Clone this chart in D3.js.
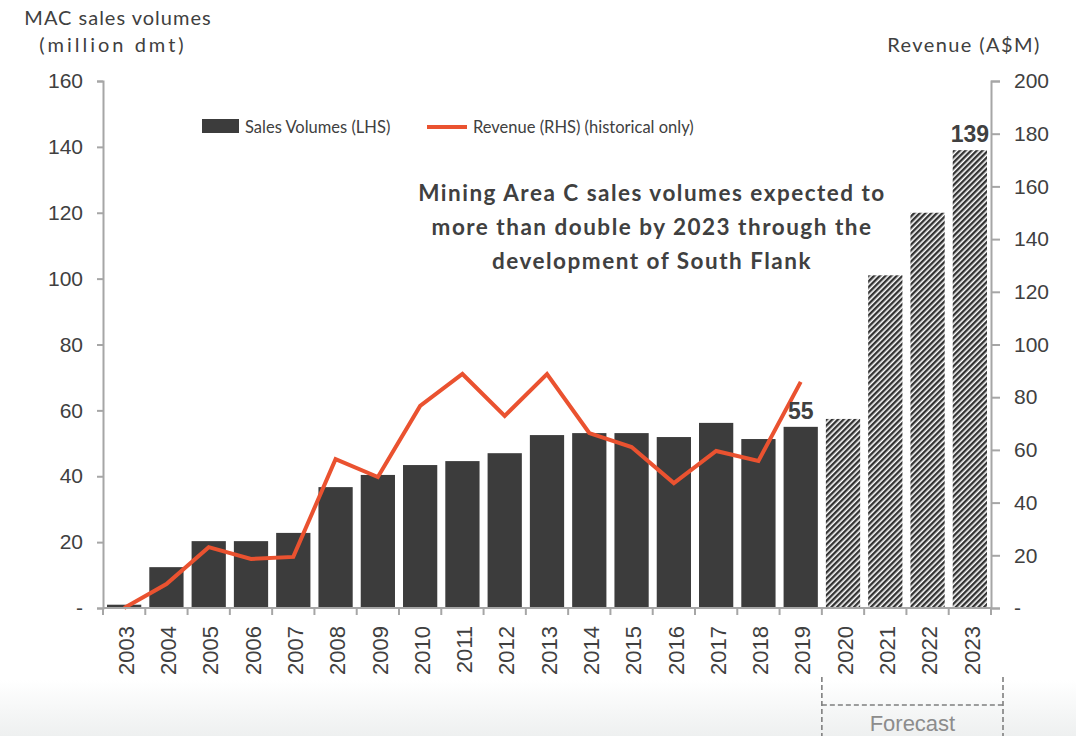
<!DOCTYPE html>
<html><head><meta charset="utf-8">
<script src="https://cdn.jsdelivr.net/npm/d3@7"></script>
<style>
html,body{margin:0;padding:0;background:#fff;}
svg{display:block;}
</style></head>
<body>
<svg id="chart" width="1076" height="736"></svg>
<script>
const years = ["2003","2004","2005","2006","2007","2008","2009","2010","2011","2012","2013","2014","2015","2016","2017","2018","2019","2020","2021","2022","2023"];
const salesVolumes = [1,12.4,20.3,20.3,22.8,36.7,40.4,43.4,44.6,47,52.5,53.1,53.1,51.9,56.2,51.3,55,57.4,101,120,139];
const forecastYears = ["2020","2021","2022","2023"];
const revenueYears = ["2003","2004","2005","2006","2007","2008","2009","2010","2011","2012","2013","2014","2015","2016","2017","2018","2019"];
const revenue = [0,9.1,23.1,18.6,19.4,56.5,49.7,76.7,88.8,72.9,88.8,66.4,61.1,47.4,59.6,55.8,85.8];
const leftTicks = [0,20,40,60,80,100,120,140,160];
const rightTicks = [0,20,40,60,80,100,120,140,160,180,200];
const annotationLines = ["Mining Area C sales volumes expected to","more than double by 2023 through the","development of South Flank"];
const valueLabels = [{year:"2019", value:55, text:"55"},{year:"2023", value:139, text:"139"}];

(function(){
const svg = d3.select("#chart");
const W = 1076, H = 736;
const pLeft = 103, pRight = 991, pTop = 81, pBottom = 608;
const textColor = "#404040";
const sansA = "'Liberation Sans', Arial, sans-serif";
const sansC = "Lato, 'Open Sans', sans-serif";

const defs = svg.append("defs");
const grad = defs.append("linearGradient").attr("id","bg").attr("x1",0).attr("y1",0).attr("x2",0).attr("y2",1);
grad.append("stop").attr("offset","0%").attr("stop-color","#ffffff");
grad.append("stop").attr("offset","100%").attr("stop-color","#eef0f0");
const pat = defs.append("pattern").attr("id","hatch").attr("patternUnits","userSpaceOnUse")
  .attr("width",4).attr("height",4).attr("patternTransform","rotate(45)");
pat.append("rect").attr("width",4).attr("height",4).attr("fill","#ffffff");
pat.append("rect").attr("x",0).attr("width",2.4).attr("height",4).attr("fill","#333333");

svg.append("rect").attr("x",0).attr("y",680).attr("width",W).attr("height",H-680).attr("fill","url(#bg)");

const x = d3.scaleBand().domain(years).range([pLeft,pRight]).paddingInner(0.19).paddingOuter(0.095);
const yL = d3.scaleLinear().domain([0,160]).range([pBottom,pTop]);
const yR = d3.scaleLinear().domain([0,200]).range([pBottom,pTop]);

// bars
svg.append("g").selectAll("rect").data(years).join("rect")
  .attr("x", d => x(d))
  .attr("width", x.bandwidth())
  .attr("y", (d,i) => yL(salesVolumes[i]))
  .attr("height", (d,i) => pBottom - yL(salesVolumes[i]))
  .attr("fill", d => forecastYears.includes(d) ? "url(#hatch)" : "#3c3c3c");

// revenue line
const line = d3.line().x(d => x(d.year) + x.bandwidth()/2).y(d => yR(d.v));
svg.append("path").datum(revenueYears.map((y,i)=>({year:y, v:revenue[i]})))
  .attr("d", line).attr("fill","none").attr("stroke","#ea5230").attr("stroke-width",4)
  .attr("stroke-linejoin","miter");

// axes
const axisColor = "#a6a6a6";
const gL = svg.append("g").attr("transform",`translate(${pLeft},0)`)
  .call(d3.axisLeft(yL).tickValues(leftTicks).tickSize(6).tickPadding(14).tickFormat(d => d===0 ? "-" : d));
const gR = svg.append("g").attr("transform",`translate(${pRight},0)`)
  .call(d3.axisRight(yR).tickValues(rightTicks).tickSize(9).tickPadding(14).tickFormat(d => d===0 ? "-" : d));
const gB = svg.append("g").attr("transform",`translate(0,${pBottom})`)
  .call(d3.axisBottom(x).tickSize(0).tickPadding(0));
[gL,gR,gB].forEach(g => {
  g.select(".domain").attr("stroke",axisColor).attr("stroke-width",2);
  g.selectAll(".tick line").attr("stroke",axisColor).attr("stroke-width",2);
  g.selectAll("text").attr("fill",textColor).style("font-family",sansA).style("font-size","21px");
});
gB.select(".domain").attr("d",`M${pLeft},0H${pRight}`);
// band boundary ticks
const bounds = years.map(d => x(d) - x.step()*x.paddingInner()/2).concat([pRight]);
gB.selectAll(".bt").data(bounds).join("line").attr("class","bt")
  .attr("x1",d=>d).attr("x2",d=>d).attr("y1",0).attr("y2",7)
  .attr("stroke",axisColor).attr("stroke-width",2);
gB.selectAll(".tick text")
  .style("font-size","22px")
  .attr("transform","rotate(-90)")
  .attr("text-anchor","end")
  .attr("x",-18).attr("y",2).attr("dy","0.35em");

// axis titles
svg.append("text").attr("x",118).attr("y",25).attr("text-anchor","middle")
  .style("font-family",sansC).style("font-size","20px").style("letter-spacing","1px").attr("fill",textColor)
  .text("MAC sales volumes");
svg.append("text").attr("x",113).attr("y",52).attr("text-anchor","middle")
  .style("font-family",sansC).style("font-size","20px").style("letter-spacing","3px").attr("fill",textColor)
  .text("(million dmt)");
svg.append("text").attr("x",964).attr("y",52).attr("text-anchor","middle")
  .style("font-family",sansC).style("font-size","20px").style("letter-spacing","1.4px").attr("fill",textColor)
  .text("Revenue (A$M)");

// legend
svg.append("rect").attr("x",202).attr("y",119).attr("width",37).attr("height",14).attr("fill","#3c3c3c");
svg.append("text").attr("x",245).attr("y",133).style("font-family",sansC).style("font-size","16.5px").attr("fill",textColor)
  .text("Sales Volumes (LHS)");
svg.append("line").attr("x1",427).attr("x2",467).attr("y1",127).attr("y2",127).attr("stroke","#ea5230").attr("stroke-width",4);
svg.append("text").attr("x",473).attr("y",133).style("font-family",sansC).style("font-size","16.5px").attr("fill",textColor)
  .text("Revenue (RHS) (historical only)");

// annotation
svg.append("g").selectAll("text").data(annotationLines).join("text")
  .attr("x",652).attr("y",(d,i)=>201 + i*34).attr("text-anchor","middle")
  .style("font-family",sansC).style("font-weight","bold").style("font-size","22.5px").style("letter-spacing","1.5px").attr("fill",textColor)
  .text(d=>d);

// value labels
svg.append("g").selectAll("text").data(valueLabels).join("text")
  .attr("x", d => x(d.year) + x.bandwidth()/2)
  .attr("y", d => yL(d.value) - 8)
  .attr("text-anchor","middle")
  .style("font-family",sansA).style("font-weight","bold").style("font-size","23px").attr("fill",textColor)
  .text(d=>d.text);

// forecast bracket
const fx0 = x("2020") - x.step()*x.paddingInner()/2, fx1 = 1003;
function dl(x1,y1,x2,y2){
  svg.append("line").attr("x1",x1).attr("y1",y1).attr("x2",x2).attr("y2",y2)
    .attr("stroke","#7f7f7f").attr("stroke-width",1.6).attr("stroke-dasharray","5,3");
}
dl(fx0,677,fx0,736); dl(fx1,677,fx1,736); dl(fx0,705,fx1,705);
svg.append("text").attr("x",(fx0+fx1)/2).attr("y",731).attr("text-anchor","middle")
  .style("font-family",sansA).style("font-size","22px").attr("fill","#8c8c8c").text("Forecast");
})();
</script>
</body></html>
